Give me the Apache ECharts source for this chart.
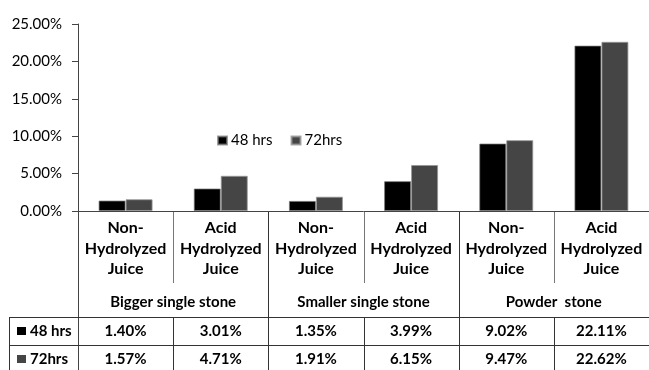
<!DOCTYPE html>
<html>
<head>
<meta charset="utf-8">
<script src="https://cdn.jsdelivr.net/npm/echarts@6/dist/echarts.min.js"></script>
<style>
  html, body { margin: 0; padding: 0; background: #fff; }
  #chart { width: 649px; height: 370px; }
</style>
</head>
<body>
<div id="chart"></div>
<script>
// Juice treatments per stone type
const categories = [
  'Non-\nHydrolyzed\nJuice', 'Acid\nHydrolyzed\nJuice',
  'Non-\nHydrolyzed\nJuice', 'Acid\nHydrolyzed\nJuice',
  'Non-\nHydrolyzed\nJuice', 'Acid\nHydrolyzed\nJuice'
];
const groups = ['Bigger single stone', 'Smaller single stone', 'Powder  stone'];
const seriesNames = ['48 hrs', '72hrs'];
const hrs48 = [1.40, 3.01, 1.35, 3.99, 9.02, 22.11];
const hrs72 = [1.57, 4.71, 1.91, 6.15, 9.47, 22.62];
const yMax = 25;
const yStep = 5;

const FONT = 'Lato, "Open Sans", sans-serif';
const colors = ['#000000', '#454545'];
const lineColor = '#333';

const chart = echarts.init(document.getElementById('chart'), null, { renderer: 'canvas' });

const pct = v => v.toFixed(2) + '%';

chart.setOption({
  animation: false,
  textStyle: { fontFamily: FONT },
  grid: { left: 78, top: 24, width: 575, height: 187, containLabel: false },
  legend: {
    left: 212, top: 128,
    itemWidth: 9, itemHeight: 8, itemGap: 18,
    icon: 'rect',
    textStyle: { fontSize: 15, color: '#000', fontFamily: FONT, padding: [0, 0, 0, -1] },
    data: seriesNames
  },
  xAxis: {
    type: 'category',
    data: categories,
    axisLine: { show: true, lineStyle: { color: '#444', width: 1 } },
    axisTick: { show: false },
    axisLabel: { show: false }
  },
  yAxis: {
    type: 'value',
    min: 0, max: yMax, interval: yStep,
    axisLine: { show: true, lineStyle: { color: '#444', width: 1 } },
    axisTick: { show: true, inside: false, length: 6, lineStyle: { color: '#444' } },
    splitLine: { show: false },
    axisLabel: { formatter: v => pct(v), fontSize: 15, color: '#000', margin: 16, fontFamily: FONT }
  },
  series: [
    {
      name: seriesNames[0], type: 'bar', data: hrs48,
      barWidth: 27, barGap: '0%',
      itemStyle: { color: colors[0], borderColor: 'rgba(120,120,120,0.7)', borderWidth: 1 }
    },
    {
      name: seriesNames[1], type: 'bar', data: hrs72,
      barWidth: 27, barGap: '0%',
      itemStyle: { color: colors[1], borderColor: 'rgba(150,150,150,0.8)', borderWidth: 1 }
    }
  ]
});

// Table beneath the axis: category names, group names, grid lines and value rows
function buildTable() {
  const cx = categories.map((_, i) => chart.convertToPixel({ xAxisIndex: 0 }, i));
  const band = cx[1] - cx[0];
  const x0 = cx[0] - band / 2;
  const yAxisY = chart.convertToPixel({ yAxisIndex: 0 }, 0);
  const labelBottom = yAxisY + 72;
  const row1Top = yAxisY + 106;
  const row2Top = yAxisY + 134;
  const bottom = 370;
  const tableLeft = 9;
  const right = 649;
  const els = [];
  const line = (x1, y1, x2, y2, color) => els.push({
    type: 'line', silent: true,
    shape: { x1, y1, x2, y2 },
    style: { stroke: color || lineColor, lineWidth: 1 }
  });
  const text = (x, y, s, opts) => els.push({
    type: 'text', silent: true, x, y,
    style: Object.assign({
      text: s, fill: '#000', font: 'bold 15px ' + FONT,
      align: 'center', verticalAlign: 'middle'
    }, opts || {})
  });

  // left edge of the category area
  line(Math.round(x0) + 0.5, yAxisY, Math.round(x0) + 0.5, bottom, '#444');

  // separators between categories
  for (let i = 1; i < categories.length; i++) {
    const bx = Math.round(cx[i] - band / 2) + 0.5;
    if (i % 2 === 0) {
      line(bx, yAxisY, bx, bottom);
    } else {
      line(bx, yAxisY, bx, labelBottom, '#777');
      line(bx, row1Top, bx, bottom);
    }
  }

  // category names, one line per row
  categories.forEach((c, i) => {
    c.split('\n').forEach((part, k) => text(cx[i], yAxisY + 17 + k * 20.5, part, { font: 'bold 16px ' + FONT }));
  });

  // group names
  groups.forEach((g, k) => {
    const gx = (cx[2 * k] + cx[2 * k + 1]) / 2;
    text(gx, yAxisY + 91, g);
  });

  // horizontal rules
  line(tableLeft, row1Top + 0.5, right, row1Top + 0.5);
  line(tableLeft, row2Top + 0.5, right, row2Top + 0.5);
  line(tableLeft + 0.5, row1Top, tableLeft + 0.5, bottom);

  // value rows
  const rows = [hrs48, hrs72];
  const rowY = [yAxisY + 120, yAxisY + 148];
  rows.forEach((vals, r) => {
    els.push({
      type: 'rect', silent: true,
      shape: { x: 17, y: rowY[r] - 4, width: 9, height: 8 },
      style: { fill: colors[r] }
    });
    text(30, rowY[r], seriesNames[r], { align: 'left' });
    vals.forEach((v, i) => text(cx[i], rowY[r], pct(v)));
  });

  chart.setOption({ graphic: { elements: els } });
}
buildTable();
</script>
</body>
</html>
